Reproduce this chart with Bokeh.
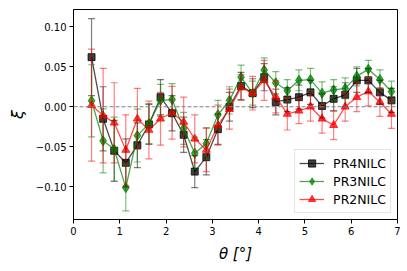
from bokeh.plotting import figure
from bokeh.models import (ColumnDataSource, FixedTicker, Span, Legend, LegendItem,
                          Range1d, Whisker, TeeHead)
from bokeh.embed import file_html
from bokeh.resources import INLINE

theta = [0.39, 0.64, 0.88, 1.13, 1.38, 1.63, 1.88, 2.13, 2.38, 2.62, 2.87, 3.12, 3.37,
         3.62, 3.87, 4.12, 4.37, 4.62, 4.87, 5.12, 5.37, 5.62, 5.87, 6.12, 6.37, 6.62, 6.87]

pr4 = [0.062, -0.015, -0.055, -0.070, -0.048, -0.022, 0.012, -0.008, -0.035, -0.081,
       -0.063, -0.028, 0.000, 0.026, 0.017, 0.037, 0.006, 0.009, 0.012, 0.018, 0.001,
       0.010, 0.015, 0.033, 0.033, 0.018, 0.008]
pr4_err = [0.048, 0.040, 0.038, 0.030, 0.028, 0.025, 0.022, 0.022, 0.022, 0.020, 0.022,
           0.019, 0.018, 0.017, 0.018, 0.017, 0.016, 0.015, 0.015, 0.015, 0.015, 0.015,
           0.015, 0.015, 0.015, 0.015, 0.015]

pr3 = [0.0075, -0.0425, -0.053, -0.101, -0.036, -0.021, 0.008, 0.009, -0.027, -0.058,
       -0.046, -0.010, 0.008, 0.037, 0.017, 0.046, 0.030, 0.020, 0.033, 0.034, 0.017,
       0.021, 0.023, 0.038, 0.047, 0.034, 0.019]
pr3_err = [0.045, 0.040, 0.040, 0.029, 0.033, 0.025, 0.020, 0.020, 0.020, 0.020, 0.020,
           0.018, 0.017, 0.015, 0.015, 0.015, 0.014, 0.014, 0.013, 0.014, 0.014, 0.013,
           0.013, 0.012, 0.011, 0.012, 0.013]

pr2 = [0.002, -0.011, -0.020, -0.054, -0.015, -0.029, -0.015, -0.0075, -0.019, -0.040,
       -0.054, -0.023, -0.003, 0.024, 0.017, 0.033, 0.0125, -0.009, -0.005, 0.000, -0.015,
       -0.023, 0.000, 0.012, 0.019, 0.006, -0.009]
pr2_err = [0.070, 0.059, 0.050, 0.044, 0.038, 0.036, 0.033, 0.033, 0.031, 0.030, 0.027,
           0.025, 0.025, 0.016, 0.021, 0.025, 0.020, 0.020, 0.016, 0.018, 0.018, 0.018,
           0.018, 0.018, 0.018, 0.018, 0.018]

x_ticks = [0, 1, 2, 3, 4, 5, 6, 7]
y_ticks = [-0.10, -0.05, 0.0, 0.05, 0.10]
y_tick_labels = ["\u22120.10", "\u22120.05", "0.00", "0.05", "0.10"]

series = [
    ("PR4NILC", pr4, pr4_err, "black", "square", 7),
    ("PR3NILC", pr3, pr3_err, "green", "diamond", 10),
    ("PR2NILC", pr2, pr2_err, "red", "triangle", 8),
]

p = figure(width=406, height=270, output_backend="svg", toolbar_location=None,
           x_range=Range1d(0, 7), y_range=Range1d(-0.1408, 0.1215),
           min_border_left=73, min_border_right=9, min_border_top=9, min_border_bottom=51)

p.xgrid.visible = False
p.ygrid.visible = False
p.outline_line_color = "black"
p.outline_line_width = 1
p.background_fill_color = "white"
p.border_fill_color = "white"

for ax in (p.xaxis[0], p.yaxis[0]):
    ax.major_tick_out = 4
    ax.major_tick_in = 0
    ax.minor_tick_out = 0
    ax.minor_tick_in = 0
    ax.major_tick_line_color = "black"
    ax.axis_line_color = "black"
    ax.major_label_text_color = "black"
    ax.major_label_text_font = "DejaVu Sans"
    ax.major_label_text_font_size = "10px"
    ax.major_label_standoff = 3
    ax.axis_label_text_font = "DejaVu Sans"
    ax.axis_label_text_font_style = "italic"
    ax.axis_label_text_color = "black"

p.xaxis.ticker = FixedTicker(ticks=x_ticks)
p.yaxis.ticker = FixedTicker(ticks=y_ticks)
p.yaxis.major_label_overrides = {t: s for t, s in zip(y_ticks, y_tick_labels)}
p.xaxis.axis_label = "\u03b8 [\u00b0]"
p.xaxis.axis_label_text_font_size = "15px"
p.xaxis.axis_label_standoff = 7
p.yaxis.axis_label = "\u03be"
p.yaxis.axis_label_text_font_size = "16px"
p.yaxis.axis_label_standoff = 6

p.add_layout(Span(location=0, dimension="width", line_color="gray",
                  line_dash="4 2", line_width=1.2))

items = []
for name, vals, errs, col, mk, sz in series:
    src = ColumnDataSource(dict(
        x=theta, y=vals,
        lo=[v - e for v, e in zip(vals, errs)],
        hi=[v + e for v, e in zip(vals, errs)],
    ))
    w = Whisker(source=src, base="x", lower="lo", upper="hi", dimension="height",
                line_color=col, line_alpha=0.5, line_width=1.2, level="glyph",
                upper_head=TeeHead(size=7, line_color=col, line_alpha=0.5, line_width=1.2),
                lower_head=TeeHead(size=7, line_color=col, line_alpha=0.5, line_width=1.2))
    p.add_layout(w)
    ln = p.line("x", "y", source=src, line_color=col, line_alpha=0.7, line_width=1.3)
    sc = p.scatter("x", "y", source=src, marker=mk, size=sz, fill_color=col,
                   line_color=col, fill_alpha=0.75, line_alpha=0.75)
    items.append(LegendItem(label=name, renderers=[ln, sc]))

legend = Legend(items=items, location="bottom_right", margin=6, padding=4, spacing=0,
                glyph_width=25, glyph_height=18, label_height=18, label_standoff=9,
                label_text_font="DejaVu Sans", label_text_font_size="12.5px",
                label_text_color="black",
                border_line_color="#cccccc", border_line_width=1,
                background_fill_color="white", background_fill_alpha=0.8)
p.add_layout(legend)

open("out.html", "w").write(file_html(p, INLINE))
